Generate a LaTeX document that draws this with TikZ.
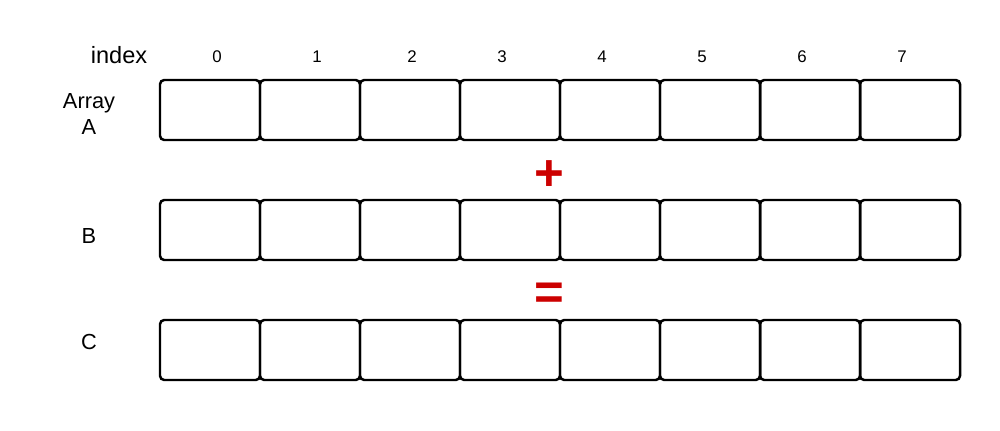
\documentclass[tikz,border=0pt]{standalone}
\usepackage{fontspec}
\setmainfont{Liberation Sans}
\usepackage{tikz}
\definecolor{rouge}{RGB}{204,0,0}

\tikzset{
  cellule/.style={draw, line width=0.7pt, rounded corners=1.2pt, minimum width=1cm, minimum height=0.6cm, outer sep=0pt, inner sep=0pt},
  etiq/.style={font=\fontsize{6.2}{7.4}\selectfont, align=center},
  numero/.style={font=\fontsize{4.8}{5.5}\selectfont},
  signe/.style={text=rouge, font=\fontsize{14.5}{14.5}\selectfont\bfseries}
}

\begin{document}
\begin{tikzpicture}
  % Cadre de la figure
  \useasboundingbox (0,0) rectangle (10,4.3);

  % Les trois tableaux
  \foreach \i in {0,...,7} {
    \node[cellule] (a\i) at (2.1+\i,3.2) {};
    \node[cellule] (b\i) at (2.1+\i,2.0) {};
    \node[cellule] (c\i) at (2.1+\i,0.8) {};
  }

  % Indices
  \node[etiq, font=\fontsize{6.7}{8}\selectfont] (index) at (1.19,3.75) {index};
  \foreach \i/\x in {0/2.17,1/3.17,2/4.12,3/5.02,4/6.02,5/7.02,6/8.02,7/9.02}
    \node[numero] (n\i) at (\x,3.73) {\i};

  % Noms des tableaux
  \node[etiq] (nomA) at (0.89,3.16) {Array\\A};
  \node[etiq] (nomB) at (0.89,1.94) {B};
  \node[etiq] (nomC) at (0.89,0.88) {C};

  % Operations
  \node[signe] (plus) at (5.49,2.54) {+};
  \node[signe] (egal) at (5.49,1.34) {=};
\end{tikzpicture}
\end{document}
